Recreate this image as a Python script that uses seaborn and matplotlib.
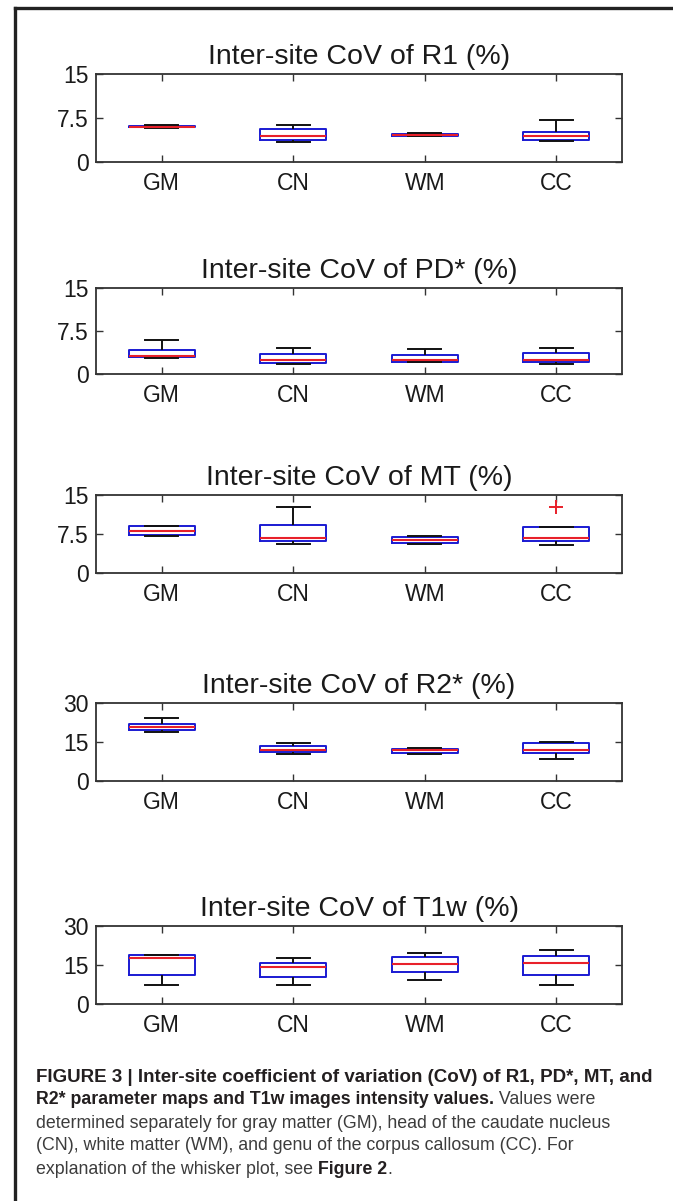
import numpy as np
import pandas as pd
import matplotlib
matplotlib.use("Agg")
import matplotlib.pyplot as plt
from matplotlib.lines import Line2D
import seaborn as sns

# ---------------- data ----------------
regions = ["GM", "CN", "WM", "CC"]
titles = ["Inter-site CoV of R1 (%)", "Inter-site CoV of PD* (%)",
          "Inter-site CoV of MT (%)", "Inter-site CoV of R2* (%)",
          "Inter-site CoV of T1w (%)"]
yticks_small = [0, 7.5, 15]
yticks_large = [0, 15, 30]
ytick_labels_small = ["0", "7.5", "15"]
ytick_labels_large = ["0", "15", "30"]

# five-number summaries per region: [whisker low, q1, median, q3, whisker high]
r1_stats = [[5.8, 5.9, 6.05, 6.2, 6.3],
            [3.4, 3.8, 4.35, 5.7, 6.3],
            [4.4, 4.45, 4.6, 4.8, 4.9],
            [3.5, 3.7, 4.35, 5.05, 7.2]]
pd_stats = [[2.8, 2.9, 3.1, 4.2, 5.9],
            [1.7, 1.9, 2.5, 3.55, 4.6],
            [2.1, 2.1, 2.5, 3.3, 4.4],
            [1.7, 2.1, 2.4, 3.7, 4.6]]
mt_stats = [[7.1, 7.3, 8.1, 9.0, 9.0],
            [5.5, 6.1, 6.8, 9.2, 12.6],
            [5.5, 5.8, 6.35, 6.9, 7.05],
            [5.3, 6.2, 6.8, 8.8, 8.8]]
r2_stats = [[19.0, 19.6, 20.6, 22.0, 24.2],
            [10.3, 11.0, 12.0, 13.6, 14.6],
            [10.3, 10.9, 11.9, 12.5, 12.8],
            [8.6, 10.9, 12.0, 14.6, 15.0]]
t1w_stats = [[7.5, 11.0, 17.7, 19.0, 19.0],
             [7.2, 10.3, 14.2, 15.8, 17.7],
             [9.2, 12.2, 15.4, 18.2, 19.8],
             [7.2, 11.2, 15.8, 18.5, 20.8]]
# outlier (MT, CC)
mt_outlier_region = ["CC"]
mt_outlier_value = [12.6]

panel_stats = [r1_stats, pd_stats, mt_stats, r2_stats, t1w_stats]
panel_ylim = [15, 15, 15, 30, 30]

# ---------------- figure ----------------
W, H = 673, 1201
fig = plt.figure(figsize=(W / 100, H / 100), dpi=100)
fig.patch.set_facecolor("white")

FONT = ["Liberation Sans", "DejaVu Sans"]
plt.rcParams["font.family"] = FONT

ax_left, ax_right = 96, 622
panel_px = [(74, 162), (288, 374), (495, 573), (703, 781), (926, 1004)]

for i, (t, b) in enumerate(panel_px):
    ax = fig.add_axes([ax_left / W, (H - b) / H, (ax_right - ax_left) / W, (b - t) / H])
    df = pd.DataFrame({
        "region": np.repeat(regions, 5),
        "value": np.array(panel_stats[i]).ravel(),
    })
    sns.boxplot(data=df, x="region", y="value", order=regions, ax=ax,
                whis=(0, 100), width=0.5, fill=False, linewidth=1.4,
                linecolor="black", showfliers=False,
                boxprops={"color": "#1a1ad2"},
                medianprops={"color": "#e8202a", "linewidth": 1.5},
                whiskerprops={"color": "#111111"},
                capprops={"color": "#111111"})
    if i == 2:
        sns.stripplot(x=mt_outlier_region, y=mt_outlier_value, order=regions,
                      ax=ax, jitter=False, marker="+", color="#e8202a",
                      size=10, linewidth=1.4)
    ax.set_xlim(-0.5, 3.5)
    ymax = panel_ylim[i]
    ax.set_ylim(0, ymax)
    if ymax == 15:
        ax.set_yticks(yticks_small)
        ax.set_yticklabels(ytick_labels_small)
    else:
        ax.set_yticks(yticks_large)
        ax.set_yticklabels(ytick_labels_large)
    ax.set_xticks(range(len(regions)))
    ax.set_xticklabels(regions)
    ax.set_xlabel("")
    ax.set_ylabel("")
    ax.tick_params(direction="in", top=True, right=True, length=5,
                   width=1, color="#333333", labelsize=16.5, labelcolor="#1a1a1a")
    ax.tick_params(axis="x", pad=7)
    ax.tick_params(axis="y", pad=5)
    for s in ax.spines.values():
        s.set_color("#333333")
        s.set_linewidth(1.3)
    ax.set_facecolor("white")
    ax.set_title(titles[i], fontsize=20.5, color="#1a1a1a", pad=7)

# ---------------- outer frame ----------------
fig.add_artist(Line2D([15 / W, 15 / W], [0, (H - 8) / H], transform=fig.transFigure,
                      color="#222222", linewidth=2.4, solid_capstyle="projecting"))
fig.add_artist(Line2D([15 / W, 1.0], [(H - 8) / H, (H - 8) / H], transform=fig.transFigure,
                      color="#222222", linewidth=2.4, solid_capstyle="projecting"))

# ---------------- caption ----------------
cap_family = ["Liberation Sans Narrow", "Liberation Sans", "DejaVu Sans"]
cap_x = 36
cap_lines = [
    [("FIGURE 3 | Inter-site coefficient of variation (CoV) of R1, PD*, MT, and", "bold", 13.5)],
    [("R2* parameter maps and T1w images intensity values.", "bold", 12.8), (" Values were", "normal", 12.8)],
    [("determined separately for gray matter (GM), head of the caudate nucleus", "normal", 12.8)],
    [("(CN), white matter (WM), and genu of the corpus callosum (CC). For", "normal", 12.8)],
    [("explanation of the whisker plot, see ", "normal", 12.8), ("Figure 2", "bold", 12.8), (".", "normal", 12.8)],
]
cap_y = [1077, 1100, 1123, 1146, 1169]

fig.canvas.draw()
renderer = fig.canvas.get_renderer()
for segs, yy in zip(cap_lines, cap_y):
    x = cap_x
    for txt, wt, fs in segs:
        color = "#231f20" if wt == "bold" else "#3c3c3c"
        tobj = fig.text(x / W, (H - yy) / H, txt, fontsize=fs, fontweight=wt,
                        family=cap_family, color=color, va="center", ha="left")
        bb = tobj.get_window_extent(renderer=renderer)
        x += bb.width

fig.savefig("out.png", dpi=100, facecolor="white")
